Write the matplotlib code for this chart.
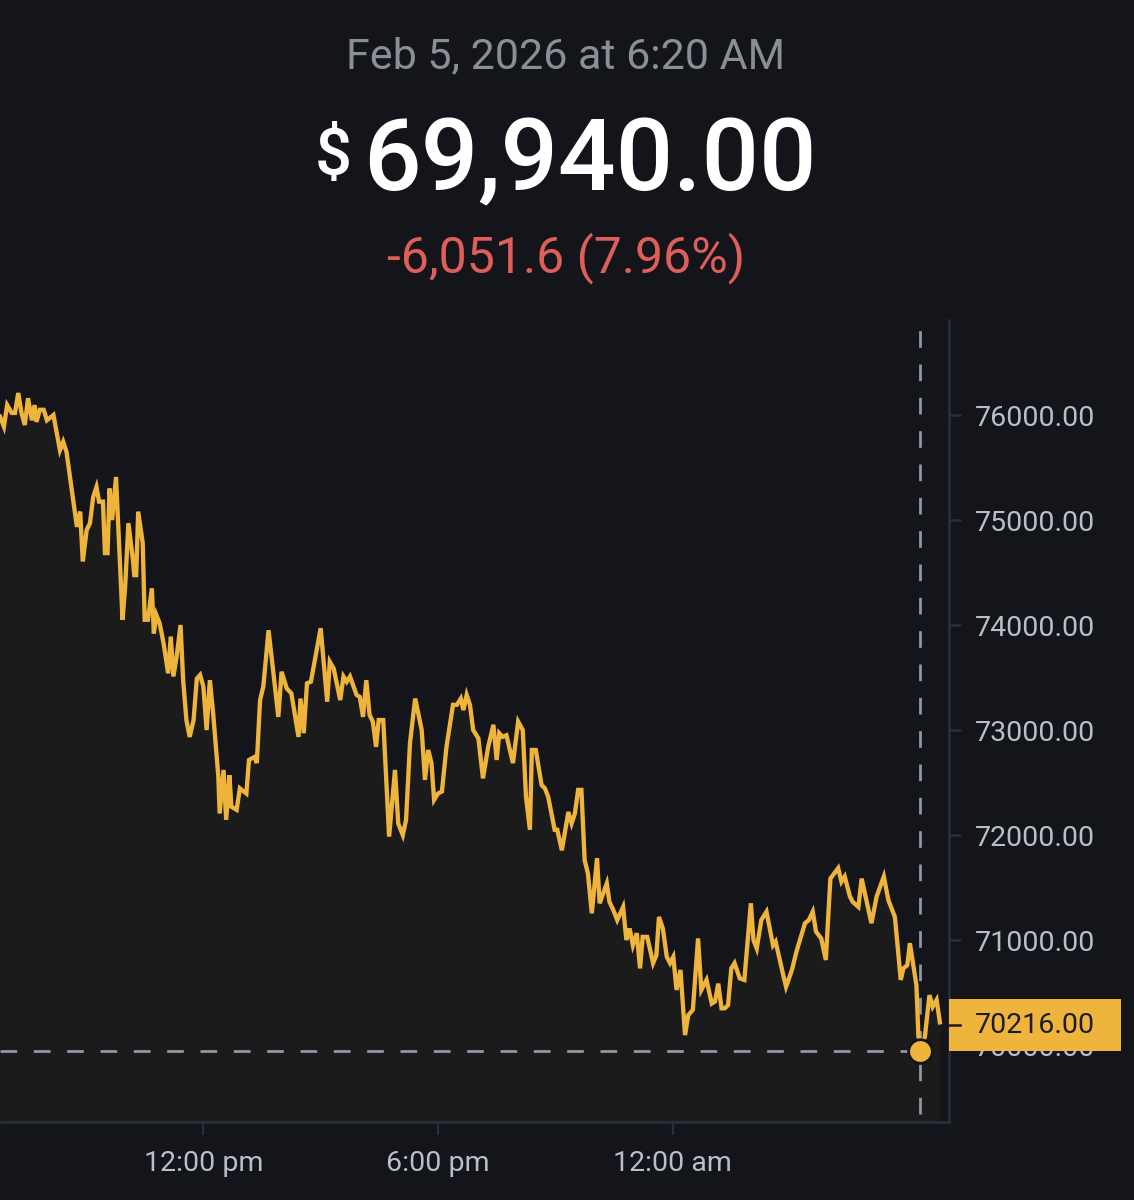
import matplotlib
matplotlib.use('Agg')
import matplotlib.pyplot as plt
import matplotlib.transforms as mtransforms
from matplotlib.patches import Rectangle

plt.rcParams['font.family'] = ['Roboto', 'DejaVu Sans']

# minutes after 00:00 Feb 4 (06:48 am Feb 4 -> 06:50 am Feb 5)
times = [408, 414, 419, 426, 431, 436, 441, 446, 451, 457, 461, 464, 469, 475, 480, 490,
         500, 505, 510, 526, 531, 535, 541, 546, 551, 556, 560, 566, 569, 573, 576, 580,
         586, 589, 596, 600, 605, 612, 614, 617, 620, 627, 630, 635, 641, 644, 648, 653,
         659, 666, 670, 674, 679, 685, 689, 694, 699, 705, 710, 715, 720, 725, 730, 735,
         743, 745, 751, 755, 760, 763, 771, 776, 786, 790, 799, 802, 807, 812, 820, 827,
         835, 840, 848, 855, 866, 869, 874, 879, 885, 900, 910, 914, 920, 930, 935, 940,
         945, 955, 960, 965, 970, 975, 980, 985, 989, 996, 1005, 1014, 1019, 1026, 1031, 1037,
         1045, 1055, 1060, 1065, 1070, 1074, 1080, 1086, 1093, 1103, 1109, 1115, 1119, 1124, 1129, 1134,
         1142, 1149, 1157, 1165, 1170, 1174, 1179, 1185, 1195, 1203, 1210, 1215, 1221, 1224, 1230, 1239,
         1244, 1249, 1259, 1263, 1270, 1280, 1285, 1290, 1295, 1300, 1305, 1310, 1316, 1324, 1328, 1339,
         1343, 1349, 1355, 1364, 1369, 1374, 1379, 1385, 1390, 1394, 1401, 1410, 1415, 1419, 1425, 1431,
         1436, 1441, 1446, 1452, 1459, 1464, 1471, 1479, 1484, 1492, 1500, 1505, 1510, 1515, 1520, 1525,
         1530, 1535, 1543, 1550, 1560, 1564, 1569, 1576, 1584, 1594, 1598, 1609, 1614, 1623, 1630, 1643,
         1649, 1655, 1660, 1668, 1675, 1682, 1694, 1699, 1704, 1712, 1716, 1725, 1730, 1736, 1745, 1753,
         1764, 1771, 1781, 1790, 1794, 1800, 1804, 1814, 1817, 1820, 1827, 1834, 1839, 1845, 1850]

prices = [75985, 75890, 76095, 76020, 76020, 76210, 76020, 75905, 76160, 75950, 76095, 75935, 76050, 76050, 75950, 76000,
          75665, 75745, 75650, 74935, 75080, 74605, 74905, 74970, 75220, 75315, 75175, 75175, 74685, 74685, 75300, 75000,
          75410, 75000, 74050, 74365, 74970, 74620, 74475, 74475, 75080, 74780, 74050, 74050, 74350, 73920, 74095, 74015,
          73825, 73540, 73890, 73510, 73700, 74000, 73475, 73095, 72935, 73095, 73490, 73525, 73415, 73000, 73475, 73160,
          72555, 72205, 72620, 72145, 72570, 72270, 72240, 72445, 72395, 72715, 72745, 72685, 73285, 73415, 73950, 73570,
          73125, 73555, 73395, 73350, 72935, 73300, 72970, 73445, 73460, 73970, 73270, 73650, 73585, 73285, 73510, 73460,
          73510, 73335, 73315, 73125, 73475, 73145, 73080, 72840, 73095, 73095, 71985, 72620, 72110, 72000, 72145, 72875,
          73300, 73000, 72525, 72810, 72685, 72335, 72395, 72415, 72840, 73240, 73240, 73300, 73190, 73335, 73240, 73000,
          72920, 72540, 72840, 73050, 72715, 72970, 72935, 72950, 72685, 73080, 73000, 72365, 72050, 72810, 72810, 72475,
          72445, 72365, 72050, 72050, 71855, 72220, 72110, 72205, 72430, 72430, 71760, 71635, 71255, 71780, 71350, 71540,
          71365, 71285, 71190, 71315, 71000, 71110, 70950, 71065, 70730, 71030, 71030, 70780, 70855, 71220, 71110, 70840,
          70780, 70840, 70525, 70715, 70095, 70285, 70335, 71015, 70525, 70620, 70395, 70415, 70585, 70350, 70350, 70380,
          70730, 70780, 70635, 70620, 71350, 71000, 70920, 71190, 71270, 70950, 70985, 70685, 70555, 70715, 70890, 71160,
          71190, 71270, 71080, 71015, 70810, 71585, 71685, 71555, 71605, 71415, 71365, 71315, 71585, 71415, 71160, 71415,
          71605, 71380, 71220, 70620, 70730, 70760, 70970, 70570, 70095, 69940, 70080, 70475, 70365, 70430, 70216]

yticks = [70000, 71000, 72000, 73000, 74000, 75000, 76000]
xticks = [720, 1080, 1440]
xlabels = ['12:00 pm', '6:00 pm', '12:00 am']

sel_time = 1820
sel_price = 69940
last_price = 70216
date_text = 'Feb 5, 2026 at 6:20 AM'
price_text = '69,940.00'
change_text = '-6,051.6 (7.96%)'

bg = '#13151b'
yellow = '#eeb43c'
grid_c = '#2a2f3a'
label_c = '#b9bec7'

fig = plt.figure(figsize=(11.34, 12), dpi=100, facecolor=bg)
ax = fig.add_axes([0.0, 1 - 1122 / 1200, 949 / 1134, (1122 - 320) / 1200])
ax.set_facecolor(bg)

ymin, ymax = 69267, 76905
ax.set_xlim(408, 1864)
ax.set_ylim(ymin, ymax)

ax.fill_between(times, prices, ymin, color=yellow, alpha=0.045, lw=0, zorder=1)
ax.plot(times, prices, color=yellow, lw=3.1, solid_joinstyle='miter', zorder=3)

# crosshair
ax.axvline(sel_time, ymin=0.01, ymax=1, color='#8e97a8', lw=2, ls=(0, (6, 6)), zorder=2)
ax.hlines(sel_price, 408, sel_time, color='#8e97a8', lw=2, ls=(0, (6, 6)), zorder=2)
ax.plot([sel_time], [sel_price], 'o', ms=17, color=yellow, mec=bg, mew=2, zorder=6, clip_on=False)

for s in ['top', 'left']:
    ax.spines[s].set_visible(False)
for s in ['right', 'bottom']:
    ax.spines[s].set_color(grid_c)
    ax.spines[s].set_linewidth(1.8)

ax.yaxis.tick_right()
ax.set_yticks(yticks)
ax.set_yticklabels(['%.2f' % v for v in yticks])
ax.set_xticks(xticks)
ax.set_xticklabels(xlabels)
ax.tick_params(axis='y', length=8.6, width=1.8, color=grid_c, pad=10, labelsize=20.5, labelcolor=label_c)
ax.tick_params(axis='x', length=9, width=1.5, color=grid_c, pad=11.5, labelsize=20.5, labelcolor=label_c)

# last price tag
trans = mtransforms.blended_transform_factory(ax.transAxes, ax.transData)
px = (ymax - ymin) / (1122 - 320)
tag_mid = last_price - 3 * px
ax.add_patch(Rectangle((1.0, tag_mid - 26 * px), 172 / 949, 52 * px, transform=trans,
                       facecolor=yellow, edgecolor='none', clip_on=False, zorder=7))
ax.plot([1.0, 1.0 + 11 / 949], [tag_mid, tag_mid], transform=trans, color='#1b1d22',
        lw=1.8, clip_on=False, zorder=8)
ax.text(975 / 949, tag_mid, '%.2f' % last_price, transform=trans, ha='left', va='center',
        fontsize=20.5, color='#1b1d22', zorder=8, clip_on=False)

# header
fig.text(566 / 1134, 1 - 68 / 1200, date_text, ha='center', va='baseline', fontsize=31, color='#8b8e94')
fig.text(363 / 1134, 1 - 190 / 1200, price_text, ha='left', va='baseline', fontsize=73,
         color='white', fontweight='medium')
fig.text(352 / 1134, 1 - 174 / 1200, '$', ha='right', va='baseline', fontsize=47,
         color='white', fontweight='medium')
fig.text(566 / 1134, 1 - 272 / 1200, change_text, ha='center', va='baseline', fontsize=36, color='#de5f59')

fig.savefig('out.png', dpi=100, facecolor=bg)
